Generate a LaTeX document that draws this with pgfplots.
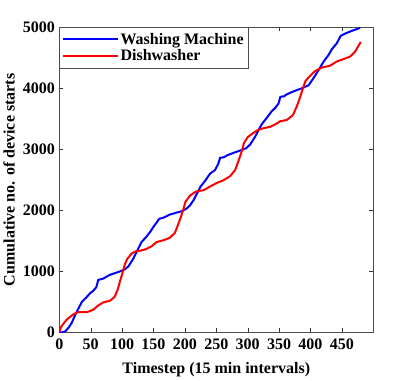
\documentclass[border=0pt]{standalone}
\usepackage{pgfplots}
\pgfplotsset{compat=1.18}
\usepackage{fontspec}
\setmainfont{Liberation Serif}
\begin{document}
\begin{tikzpicture}
\begin{axis}[
  scale only axis,
  width=314pt, height=305pt,
  xmin=0, xmax=500, ymin=0, ymax=5000,
  xtick={0,50,...,450},
  ytick={0,1000,...,5000},
  tick align=inside,
  axis line style={draw=black!70},
  tick style={draw=black!80},
  major tick length=4pt,
  scaled y ticks=false,
  /pgf/number format/assume math mode=true,
  /pgf/number format/1000 sep={},
  font=\fontsize{16}{18}\selectfont\bfseries,
  ticklabel style={font=\fontsize{16}{18}\selectfont\bfseries},
  xticklabel style={yshift=-3pt},
  yticklabel style={xshift=-1pt},
  xlabel={Timestep (15 min intervals)},
  ylabel={Cumulative no. of device starts},
  xlabel style={yshift=-6pt},
  ylabel style={yshift=1pt},
  legend style={at={(0,1)}, anchor=north west, draw=black!70, font=\fontsize{16}{18}\selectfont\bfseries, row sep=0pt, inner xsep=3pt, inner ysep=3.5pt},
  legend cell align=left,
  legend image code/.code={\draw[#1, line width=2pt] (0cm,0cm) -- (1.9cm,0cm);},
]
\addplot[blue, line width=2pt] coordinates {
(0,0) (5,0) (10,20) (15,80) (20,160) (26,300) (32,420) (36,500) (42,560) (49,640) (54,680) (59,740) (62,860) (70,880) (80,940) (90,975) (97,1000) (104,1030) (110,1080) (118,1210) (126,1380) (131,1480) (139,1570) (145,1650) (150,1730) (155,1800) (159,1860) (166,1880) (176,1930) (186,1960) (195,1985) (203,2030) (208,2080) (214,2170) (220,2290) (225,2390) (232,2480) (240,2600) (248,2660) (253,2760) (256,2860) (262,2870) (267,2900) (277,2940) (288,2980) (298,3020) (304,3080) (312,3210) (318,3330) (323,3420) (330,3510) (338,3620) (344,3680) (349,3750) (352,3860) (358,3870) (362,3900) (373,3950) (386,4000) (397,4050) (405,4170) (413,4300) (421,4440) (429,4550) (434,4640) (442,4740) (448,4860) (458,4910) (468,4950) (479,4990)
};
\addlegendentry{Washing Machine}
\addplot[red, line width=2pt] coordinates {
(0,0) (3,90) (8,160) (12,210) (18,260) (23,300) (30,330) (44,330) (54,370) (62,440) (70,490) (81,520) (88,580) (93,700) (97,850) (100,950) (104,1100) (108,1200) (115,1290) (122,1330) (130,1340) (137,1360) (147,1410) (155,1480) (166,1510) (176,1550) (184,1630) (189,1760) (194,1900) (197,2000) (201,2140) (208,2240) (218,2310) (230,2330) (240,2390) (251,2450) (261,2490) (272,2560) (280,2660) (285,2800) (290,2950) (294,3100) (300,3200) (308,3260) (315,3310) (323,3340) (336,3370) (344,3410) (352,3460) (362,3480) (372,3560) (378,3700) (383,3840) (388,4000) (392,4120) (398,4190) (407,4280) (418,4340) (431,4370) (442,4440) (453,4480) (463,4520) (471,4600) (480,4760)
};
\addlegendentry{Dishwasher}
\end{axis}
\path[use as bounding box] (-59.3pt,-43.7pt) rectangle (355.7pt,332.3pt);
\end{tikzpicture}
\end{document}
